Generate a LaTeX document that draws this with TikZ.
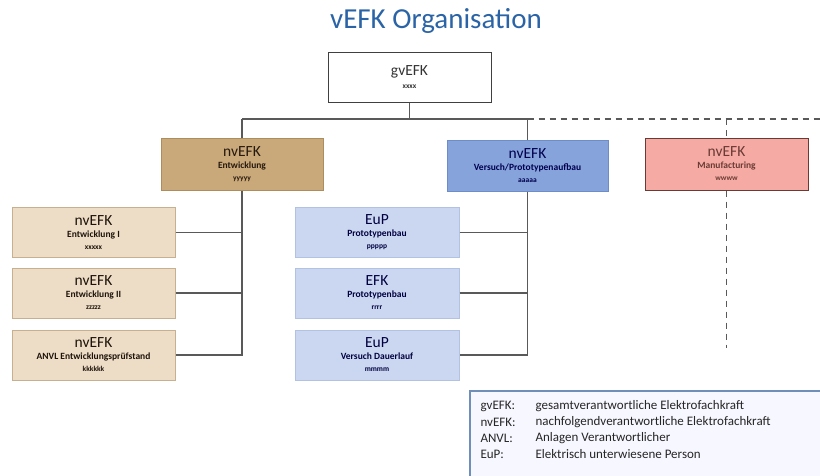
\documentclass[tikz,border=0pt]{standalone}
\usepackage{fontspec}
\setmainfont{Carlito}
\usepackage{tikz}

\definecolor{titleblue}{HTML}{2A64A6}
\definecolor{tanfill}{HTML}{C9A87A}
\definecolor{tanline}{HTML}{AD8C5E}
\definecolor{beigefill}{HTML}{EDDDC6}
\definecolor{beigeline}{HTML}{C6B08F}
\definecolor{bluefill}{HTML}{86A3DC}
\definecolor{blueline}{HTML}{6E8CC7}
\definecolor{lightfill}{HTML}{CBD7F0}
\definecolor{lightline}{HTML}{B2C2E2}
\definecolor{pinkfill}{HTML}{F5ABA4}
\definecolor{pinkline}{HTML}{6A3A34}
\definecolor{legendline}{HTML}{6F8FB8}

\newcommand{\headtxt}[1]{{\fontsize{15.5}{16}\selectfont #1}}
\newcommand{\subtxt}[1]{{\fontsize{9.5}{11}\selectfont\bfseries #1}}
\newcommand{\phtxt}[1]{{\fontsize{7.5}{9}\selectfont\bfseries #1}}

\begin{document}
\begin{tikzpicture}[x=1pt,y=-1pt,
    orgbox/.style={draw, line width=1pt, minimum width=162, minimum height=50, inner sep=0, align=center},
    conn/.style={draw=black!65, line width=1.2pt},
    dashconn/.style={conn, dash pattern=on 6pt off 5pt},
    legtxt/.style={anchor=west, font=\fontsize{13}{14}\selectfont, text=black!85}]
        \useasboundingbox (0,0) rectangle (820,475);

        % Title
        \node[text=titleblue, font=\fontsize{29}{29}\selectfont] (title) at (436,21) {vEFK Organisation};

        % Top level
        \node[orgbox, draw=black!75, fill=white, minimum width=163, text=black!80] (gv) at (409.5,77)
            {\headtxt{gvEFK}\\[1pt]\phtxt{xxxx}};

        % Second level
        \node[orgbox, draw=tanline, fill=tanfill, text=black!80!brown, minimum height=52] (ent) at (242,164)
            {\headtxt{nvEFK}\\\subtxt{Entwicklung}\\\phtxt{yyyyy}};
        \node[orgbox, draw=blueline, fill=bluefill, text=blue!30!black, minimum width=161, minimum height=51] (ver) at (527.5,165.5)
            {\headtxt{nvEFK}\\\subtxt{Versuch/Prototypenaufbau}\\\phtxt{aaaaa}};
        \node[orgbox, draw=pinkline, fill=pinkfill, text=pinkline, minimum width=163, minimum height=52] (mf) at (726.5,164)
            {\headtxt{nvEFK}\\\subtxt{Manufacturing}\\\phtxt{wwww}};

        % Entwicklung column
        \node[orgbox, draw=beigeline, fill=beigefill, text=black!85!brown, minimum width=163] (ent1) at (93.5,232.5)
            {\headtxt{nvEFK}\\\subtxt{Entwicklung I}\\\phtxt{xxxxx}};
        \node[orgbox, draw=beigeline, fill=beigefill, text=black!85!brown, minimum width=163] (ent2) at (93.5,293)
            {\headtxt{nvEFK}\\\subtxt{Entwicklung II}\\\phtxt{zzzzz}};
        \node[orgbox, draw=beigeline, fill=beigefill, text=black!85!brown, minimum width=163] (ent3) at (93.5,355)
            {\headtxt{nvEFK}\\\subtxt{ANVL Entwicklungspr\"ufstand}\\\phtxt{kkkkkk}};

        % Versuch column
        \node[orgbox, draw=lightline, fill=lightfill, text=blue!25!black, minimum width=164] (ver1) at (377,232.5)
            {\headtxt{EuP}\\\subtxt{Prototypenbau}\\\phtxt{ppppp}};
        \node[orgbox, draw=lightline, fill=lightfill, text=blue!25!black, minimum width=164] (ver2) at (377,293)
            {\headtxt{EFK}\\\subtxt{Prototypenbau}\\\phtxt{rrrr}};
        \node[orgbox, draw=lightline, fill=lightfill, text=blue!25!black, minimum width=164] (ver3) at (377,355)
            {\headtxt{EuP}\\\subtxt{Versuch Dauerlauf}\\\phtxt{mmmm}};

        % Connectors
        \coordinate (busL) at (242,119);  % left end of bus
        \coordinate (busR) at (820,119);  % right end of dashed bus
        \coordinate (mfEnd) at (726.5,348);  % end of dashed line below manufacturing
        \draw[conn] (gv.south) -- (gv.south |- busL);
        \draw[conn] (busL) -- (ent.north);
        \draw[conn] (busL) -- (ver.north |- busL) -- (ver.north);
        \draw[dashconn] (ver.north |- busL) -- (busR);
        \draw[dashconn] (mf.north |- busL) -- (mf.north);
        \draw[dashconn] (mf.south) -- (mfEnd);

        \draw[conn] (ent.south) -- (ent.south |- ent3.east) -- (ent3.east);
        \draw[conn] (ent1.east) -- (ent1.east -| ent.south);
        \draw[conn] (ent2.east) -- (ent2.east -| ent.south);

        \draw[conn] (ver.south) -- (ver.south |- ver3.east) -- (ver3.east);
        \draw[conn] (ver1.east) -- (ver1.east -| ver.south);
        \draw[conn] (ver2.east) -- (ver2.east -| ver.south);

        % Legend
        \draw[legendline, line width=1.3pt, fill=blue!3] (470,391) rectangle (830,490);
        \node[legtxt] (lk1) at (477,406) {gvEFK:};
        \node[legtxt] (lk2) at (477,422) {nvEFK:};
        \node[legtxt] (lk3) at (477,438) {ANVL:};
        \node[legtxt] (lk4) at (477,454) {EuP:};
        \node[legtxt] (lt1) at (532,406) {gesamtverantwortliche Elektrofachkraft};
        \node[legtxt] (lt2) at (532,422) {nachfolgendverantwortliche Elektrofachkraft};
        \node[legtxt] (lt3) at (532,438) {Anlagen Verantwortlicher};
        \node[legtxt] (lt4) at (532,454) {Elektrisch unterwiesene Person};
    \end{tikzpicture}
\end{document}
